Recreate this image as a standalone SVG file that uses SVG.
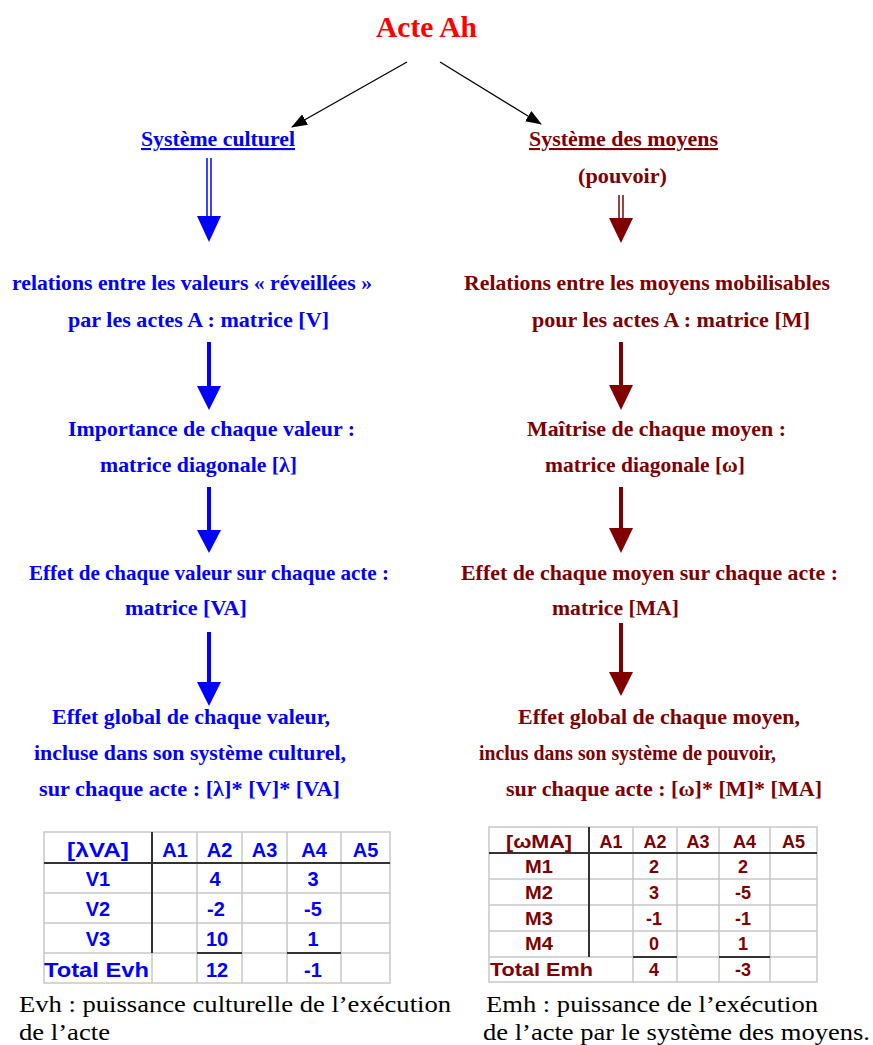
<svg xmlns="http://www.w3.org/2000/svg" width="873" height="1045" viewBox="0 0 873 1045">
<style>
.t{font-family:"Liberation Serif","Times New Roman",serif;font-weight:bold;font-size:21px}
.b{fill:#0000ff}
.r{fill:#800000}
.title{font-family:"Liberation Serif","Times New Roman",serif;font-weight:bold;font-size:29px;fill:#ff0000}
.cap{font-family:"Liberation Serif","Times New Roman",serif;font-size:24px;fill:#000}
.tb{font-family:"Liberation Sans",Arial,sans-serif;font-weight:bold;font-size:20px;text-anchor:middle}
.tr{font-family:"Liberation Sans",Arial,sans-serif;font-weight:bold;font-size:18px;text-anchor:middle}
.grid{stroke:#c8c8c8;stroke-width:1.5;fill:none}
.thick{stroke:#333;stroke-width:2;fill:none}
.blk{stroke:#000;stroke-width:1.3;fill:none}
.sb{fill:#0000ff}
.sr{fill:#800000}
</style>
<defs>
<marker id="ah" markerWidth="16" markerHeight="12" refX="15" refY="6" orient="auto" markerUnits="userSpaceOnUse"><path d="M0,0 L16,6 L0,12 Z" fill="#000"/></marker>
</defs>
<rect width="873" height="1045" fill="#fff"/>

<g id="title"><text class="title" x="426.5" y="37" text-anchor="middle" textLength="101" lengthAdjust="spacingAndGlyphs">Acte Ah</text></g>

<g id="sys-culturel"><text class="t b" x="141" y="146" textLength="154" lengthAdjust="spacingAndGlyphs" text-decoration="underline">Système culturel</text></g>
<g id="sys-moyens">
<text class="t r" x="529" y="146" textLength="189" lengthAdjust="spacingAndGlyphs" text-decoration="underline">Système des moyens</text>
<text class="t r" x="578" y="183" textLength="89" lengthAdjust="spacingAndGlyphs">(pouvoir)</text>
</g>

<g id="l-relations">
<text class="t b" x="12" y="290" textLength="360" lengthAdjust="spacingAndGlyphs">relations entre les valeurs « réveillées »</text>
<text class="t b" x="68" y="327" textLength="261" lengthAdjust="spacingAndGlyphs">par les actes A : matrice [V]</text>
</g>
<g id="l-importance">
<text class="t b" x="68" y="436" textLength="287" lengthAdjust="spacingAndGlyphs">Importance de chaque valeur :</text>
<text class="t b" x="100" y="472" textLength="197" lengthAdjust="spacingAndGlyphs">matrice diagonale [λ]</text>
</g>
<g id="l-effet">
<text class="t b" x="29" y="580" textLength="360" lengthAdjust="spacingAndGlyphs">Effet de chaque valeur sur chaque acte :</text>
<text class="t b" x="125" y="615" textLength="122" lengthAdjust="spacingAndGlyphs">matrice [VA]</text>
</g>
<g id="l-global">
<text class="t b" x="52" y="724" textLength="278" lengthAdjust="spacingAndGlyphs">Effet global de chaque valeur,</text>
<text class="t b" x="34" y="760" textLength="312" lengthAdjust="spacingAndGlyphs">incluse dans son système culturel,</text>
<text class="t b" x="39" y="796" textLength="301" lengthAdjust="spacingAndGlyphs">sur chaque acte : [λ]* [V]* [VA]</text>
</g>

<g id="r-relations">
<text class="t r" x="464" y="290" textLength="366" lengthAdjust="spacingAndGlyphs">Relations entre les moyens mobilisables</text>
<text class="t r" x="532" y="327" textLength="278" lengthAdjust="spacingAndGlyphs">pour les actes A : matrice [M]</text>
</g>
<g id="r-maitrise">
<text class="t r" x="527" y="436" textLength="259" lengthAdjust="spacingAndGlyphs">Maîtrise de chaque moyen :</text>
<text class="t r" x="545" y="472" textLength="200" lengthAdjust="spacingAndGlyphs">matrice diagonale [ω]</text>
</g>
<g id="r-effet">
<text class="t r" x="461" y="580" textLength="377" lengthAdjust="spacingAndGlyphs">Effet de chaque moyen sur chaque acte :</text>
<text class="t r" x="552" y="615" textLength="127" lengthAdjust="spacingAndGlyphs">matrice [MA]</text>
</g>
<g id="r-global">
<text class="t r" x="518" y="724" textLength="282" lengthAdjust="spacingAndGlyphs">Effet global de chaque moyen,</text>
<text class="t r" x="479" y="760" textLength="297" lengthAdjust="spacingAndGlyphs">inclus dans son système de pouvoir,</text>
<text class="t r" x="506" y="796" textLength="316" lengthAdjust="spacingAndGlyphs">sur chaque acte : [ω]* [M]* [MA]</text>
</g>

<g id="connectors">
<line class="blk" x1="407" y1="62" x2="292" y2="127" marker-end="url(#ah)"/>
<line class="blk" x1="440" y1="62" x2="541" y2="124" marker-end="url(#ah)"/>
<line x1="207" y1="158" x2="207" y2="217" stroke="#0000ff" stroke-width="1.5"/>
<line x1="211" y1="158" x2="211" y2="217" stroke="#0000ff" stroke-width="1.5"/>
<polygon class="sb" points="197,216 221,216 209,242"/>
<rect class="sb" x="207" y="342" width="4" height="45"/>
<polygon class="sb" points="197,386 221,386 209,410"/>
<rect class="sb" x="207" y="487" width="4" height="44"/>
<polygon class="sb" points="197,530 221,530 209,553"/>
<rect class="sb" x="207" y="632" width="4" height="51"/>
<polygon class="sb" points="197,682 221,682 209,706"/>
<line x1="619" y1="195" x2="619" y2="219" stroke="#800000" stroke-width="1.5"/>
<line x1="623" y1="195" x2="623" y2="219" stroke="#800000" stroke-width="1.5"/>
<polygon class="sr" points="609,218 633,218 621,243"/>
<rect class="sr" x="619" y="342" width="4" height="44"/>
<polygon class="sr" points="609,385 633,385 621,410"/>
<rect class="sr" x="619" y="487" width="4" height="42"/>
<polygon class="sr" points="609,528 633,528 621,553"/>
<rect class="sr" x="619" y="623" width="4" height="50"/>
<polygon class="sr" points="609,672 633,672 621,696"/>
</g>

<g id="table-left">
<rect class="grid" x="44" y="832" width="346" height="151"/>
<path class="grid" d="M197,832V983M242,832V983M287,832V983M341,832V983M152,953V983M44,893H390M44,923H390M44,953H390"/>
<path class="thick" d="M44,863H390M152,832V953M197,953H242M287,953H341"/>
<g class="b">
<text class="tb" x="98" y="857" textLength="62" lengthAdjust="spacingAndGlyphs">[λVA]</text>
<text class="tb" x="175" y="857">A1</text>
<text class="tb" x="219.5" y="857">A2</text>
<text class="tb" x="264.5" y="857">A3</text>
<text class="tb" x="314" y="857">A4</text>
<text class="tb" x="365.5" y="857">A5</text>
<text class="tb" x="98" y="886">V1</text>
<text class="tb" x="98" y="916">V2</text>
<text class="tb" x="98" y="946">V3</text>
<text class="tb" x="44" y="977" style="text-anchor:start" textLength="105" lengthAdjust="spacingAndGlyphs">Total Evh</text>
<text class="tb" x="215" y="886">4</text>
<text class="tb" x="313" y="886">3</text>
<text class="tb" x="216" y="916">-2</text>
<text class="tb" x="313" y="916">-5</text>
<text class="tb" x="217" y="946">10</text>
<text class="tb" x="313" y="946">1</text>
<text class="tb" x="217" y="977">12</text>
<text class="tb" x="313" y="977">-1</text>
</g>
</g>

<g id="table-right">
<rect class="grid" x="489" y="827" width="328" height="155"/>
<path class="grid" d="M633,827V982M677,827V982M719,827V982M770,827V982M489,879H817M489,905H817M489,931H817M489,957H817"/>
<path class="thick" d="M489,853H817M589,827V957M633,957H677M719,957H770"/>
<g class="r">
<text class="tr" x="539" y="848" textLength="66" lengthAdjust="spacingAndGlyphs">[ωMA]</text>
<text class="tr" x="611" y="848">A1</text>
<text class="tr" x="655" y="848">A2</text>
<text class="tr" x="698" y="848">A3</text>
<text class="tr" x="744.5" y="848">A4</text>
<text class="tr" x="793.5" y="848">A5</text>
<text class="tr" x="539" y="873" textLength="28" lengthAdjust="spacingAndGlyphs">M1</text>
<text class="tr" x="539" y="899" textLength="28" lengthAdjust="spacingAndGlyphs">M2</text>
<text class="tr" x="539" y="925" textLength="28" lengthAdjust="spacingAndGlyphs">M3</text>
<text class="tr" x="539" y="950" textLength="28" lengthAdjust="spacingAndGlyphs">M4</text>
<text class="tr" x="490" y="976" style="text-anchor:start" textLength="103" lengthAdjust="spacingAndGlyphs">Total Emh</text>
<text class="tr" x="654" y="873">2</text>
<text class="tr" x="743" y="873">2</text>
<text class="tr" x="654" y="899">3</text>
<text class="tr" x="743" y="899">-5</text>
<text class="tr" x="654" y="925">-1</text>
<text class="tr" x="743" y="925">-1</text>
<text class="tr" x="654" y="950">0</text>
<text class="tr" x="743" y="950">1</text>
<text class="tr" x="654" y="976">4</text>
<text class="tr" x="743" y="976">-3</text>
</g>
</g>

<g id="caption-left">
<text class="cap" x="19" y="1012" textLength="432" lengthAdjust="spacingAndGlyphs">Evh : puissance culturelle de l’exécution</text>
<text class="cap" x="19" y="1040" textLength="91" lengthAdjust="spacingAndGlyphs">de l’acte</text>
</g>
<g id="caption-right">
<text class="cap" x="486" y="1012" textLength="332" lengthAdjust="spacingAndGlyphs">Emh : puissance de l’exécution</text>
<text class="cap" x="483" y="1040" textLength="387" lengthAdjust="spacingAndGlyphs">de l’acte par le système des moyens.</text>
</g>
</svg>
